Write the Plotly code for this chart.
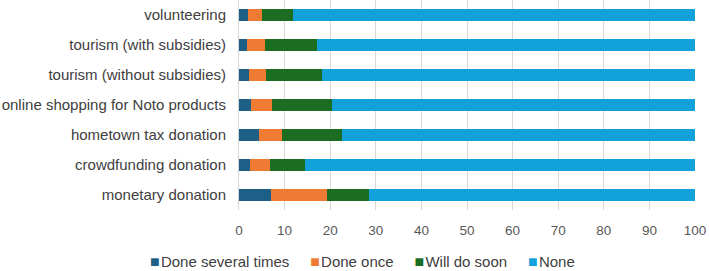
import plotly.graph_objects as go

categories = ["volunteering", "tourism (with subsidies)", "tourism (without subsidies)",
              "online shopping for Noto products", "hometown tax donation",
              "crowdfunding donation", "monetary donation"]
several = [1.9, 1.7, 2.1, 2.7, 4.3, 2.5, 7.0]
once = [3.2, 3.9, 3.8, 4.6, 5.1, 4.3, 12.3]
soon = [6.7, 11.5, 12.3, 13.1, 13.1, 7.6, 9.3]
none = [round(100 - a - b - c, 1) for a, b, c in zip(several, once, soon)]

series = [("Done several times", several, "#1d5f87"),
          ("Done once", once, "#ef7a33"),
          ("Will do soon", soon, "#1c6c22"),
          ("None", none, "#12a1d9")]

fig = go.Figure()
for name, vals, col in series:
    fig.add_trace(go.Bar(y=categories, x=vals, name=name, orientation="h",
                         marker=dict(color=col, line=dict(width=0)),
                         showlegend=False))

# legend as one text line with coloured squares
gap = "&nbsp;" * 5
legend_text = gap.join(
    f"<span style='color:{col};font-size:16px'>■</span>&#8202;{name}"
    for name, _, col in series)

font = "Liberation Sans, Arial, sans-serif"
fig.update_layout(
    width=709, height=271, barmode="stack", bargap=0.6,
    margin=dict(l=239, r=14, t=0, b=61),
    paper_bgcolor="white", plot_bgcolor="white",
    font=dict(family=font, size=13, color="#595959"),
    xaxis=dict(range=[0, 100], dtick=10, showgrid=True, gridcolor="#d9d9d9",
               gridwidth=1, zeroline=False, showline=False, ticks="",
               ticklabelstandoff=10,
               tickfont=dict(size=13.5, color="#595959")),
    yaxis=dict(autorange="reversed", showline=True, linecolor="#d9d9d9",
               linewidth=1, ticks="", ticklabelstandoff=9,
               tickfont=dict(size=15, color="#404040")),
    annotations=[dict(text=legend_text, xref="paper", yref="paper",
                      x=(362 - 239) / 456, y=-51 / 210,
                      xanchor="center", yanchor="middle", showarrow=False,
                      font=dict(size=15, color="#404040", family=font))],
)
fig.write_html("out.html")
